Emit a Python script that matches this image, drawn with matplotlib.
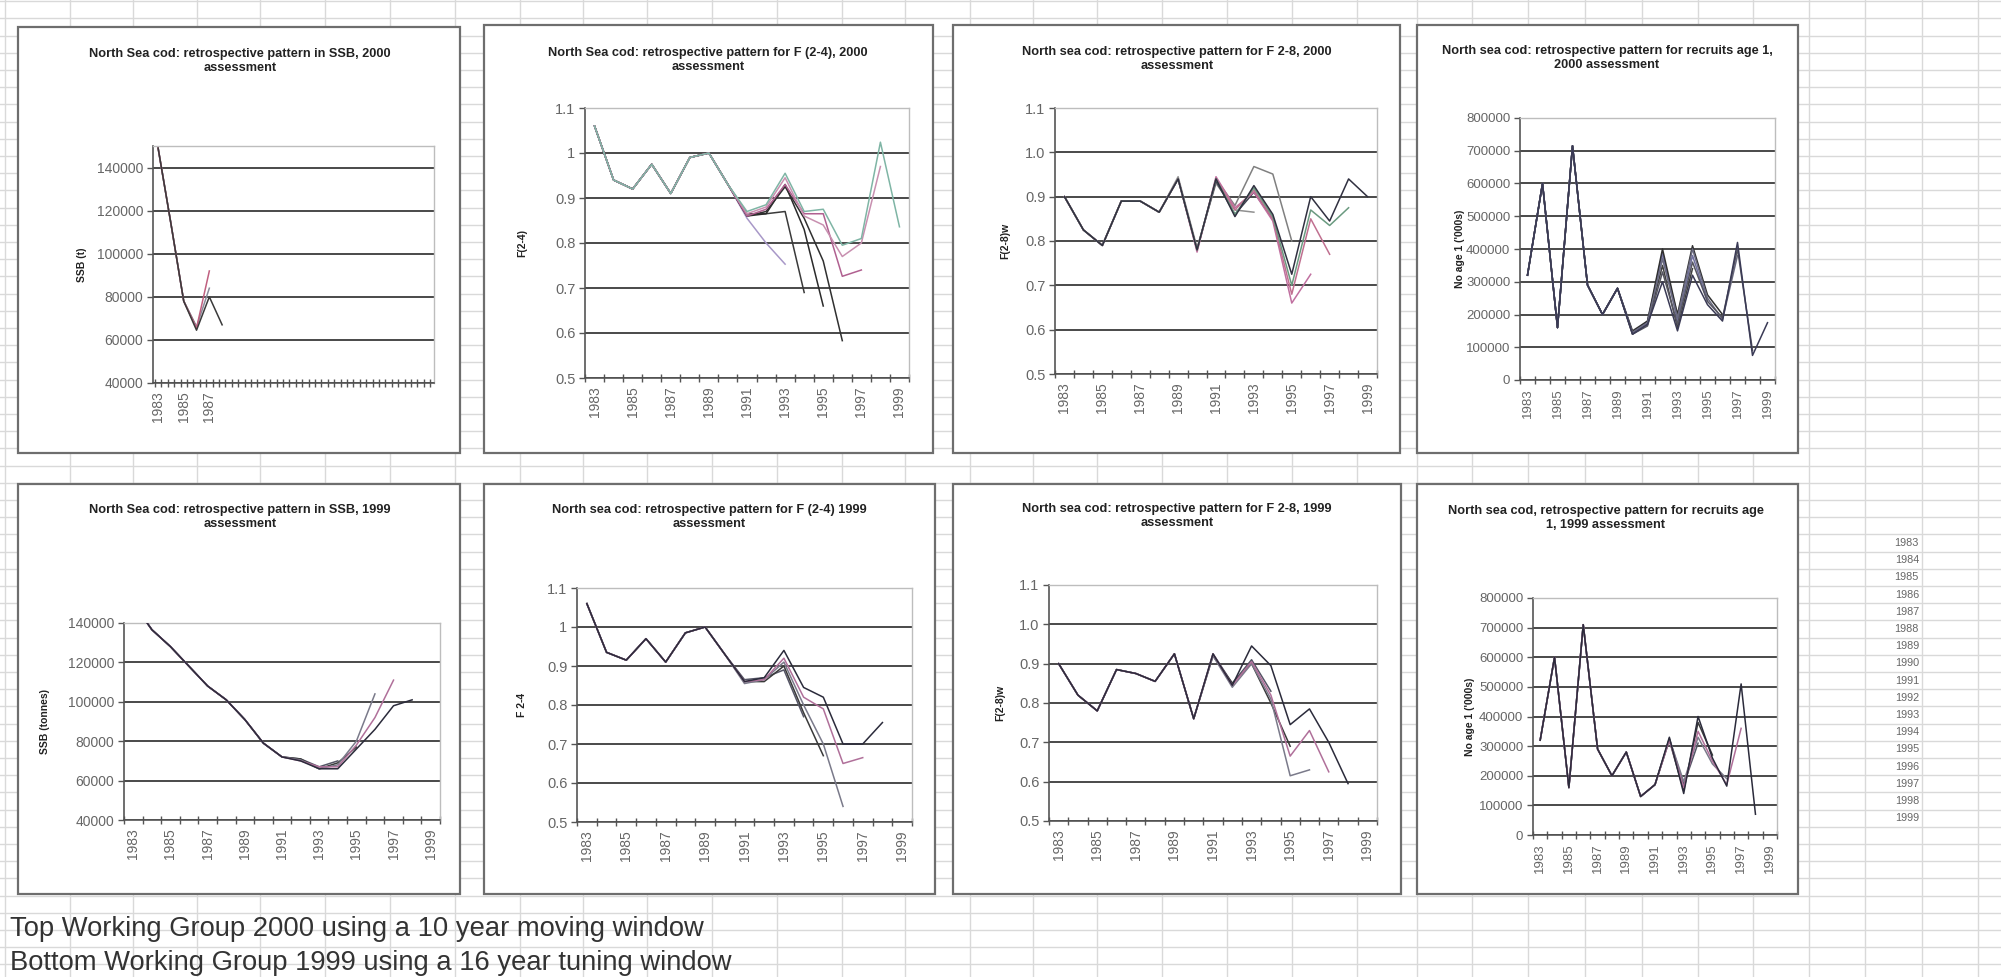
import matplotlib
matplotlib.use("Agg")
import matplotlib.pyplot as plt
from matplotlib.patches import Rectangle
from matplotlib.ticker import FixedLocator, NullFormatter
import numpy as np

plt.rcParams['font.family'] = ['Liberation Sans', 'DejaVu Sans']

# ---------------- data ----------------
years = list(range(1983, 2000))
year_labels = [str(y) for y in range(1983, 2000, 2)]
ssb_labels_2000 = ["1983", "1985", "1987"]

titles = [
    "North Sea cod: retrospective pattern in SSB, 2000\nassessment",
    "North Sea cod: retrospective pattern for F (2-4), 2000\nassessment",
    "North sea cod: retrospective pattern for F 2-8, 2000\nassessment",
    "North sea cod: retrospective pattern for recruits age 1,\n2000 assessment",
    "North Sea cod: retrospective pattern in SSB, 1999\nassessment",
    "North sea cod: retrospective pattern for F (2-4) 1999\nassessment",
    "North sea cod: retrospective pattern for F 2-8, 1999\nassessment",
    "North sea cod, retrospective pattern for recruits age\n1, 1999 assessment",
]
ylabels = ["SSB (t)", "F(2-4)", "F(2-8)w", "No age 1 ('000s)",
           "SSB (tonnes)", "F 2-4", "F(2-8)w", "No age 1 ('000s)"]

# each series starts in 1983; its length sets its last year
ssb_2000 = [
    [149000, 114000, 78000, 64500, 80000, 67000],
    [149000, 114000, 78000, 65500, 92000],
    [149000, 114000, 78000, 66000, 84000],
    [149000, 114000, 78000, 66000],
]
f24_2000 = [
    [1.06, 0.94, 0.92, 0.975, 0.91, 0.99, 1.0, 0.93, 0.87, 0.885, 0.955, 0.87, 0.875, 0.795, 0.81, 1.024, 0.836],
    [1.06, 0.94, 0.92, 0.975, 0.91, 0.99, 1.0, 0.93, 0.865, 0.88, 0.945, 0.86, 0.84, 0.77, 0.80, 0.97],
    [1.06, 0.94, 0.92, 0.975, 0.91, 0.99, 1.0, 0.93, 0.86, 0.875, 0.93, 0.865, 0.865, 0.726, 0.74],
    [1.06, 0.94, 0.92, 0.975, 0.91, 0.99, 1.0, 0.93, 0.86, 0.87, 0.925, 0.855, 0.76, 0.583],
    [1.06, 0.94, 0.92, 0.975, 0.91, 0.99, 1.0, 0.93, 0.86, 0.865, 0.93, 0.83, 0.66],
    [1.06, 0.94, 0.92, 0.975, 0.91, 0.99, 1.0, 0.93, 0.865, 0.865, 0.87, 0.69],
    [1.06, 0.94, 0.92, 0.975, 0.91, 0.99, 1.0, 0.93, 0.855, 0.80, 0.753],
]
f28_2000 = [
    [0.90, 0.825, 0.79, 0.89, 0.89, 0.865, 0.94, 0.78, 0.94, 0.855, 0.925, 0.86, 0.725, 0.90, 0.845, 0.94, 0.90],
    [0.90, 0.825, 0.79, 0.89, 0.89, 0.865, 0.94, 0.78, 0.94, 0.86, 0.92, 0.855, 0.70, 0.87, 0.835, 0.875],
    [0.90, 0.825, 0.79, 0.89, 0.89, 0.865, 0.94, 0.78, 0.94, 0.87, 0.915, 0.85, 0.68, 0.85, 0.77],
    [0.90, 0.825, 0.79, 0.89, 0.89, 0.865, 0.94, 0.775, 0.945, 0.875, 0.91, 0.845, 0.66, 0.725],
    [0.90, 0.825, 0.79, 0.89, 0.89, 0.865, 0.94, 0.78, 0.94, 0.88, 0.968, 0.951, 0.80],
    [0.90, 0.825, 0.79, 0.89, 0.89, 0.865, 0.94, 0.78, 0.935, 0.86, 0.91, 0.85],
    [0.90, 0.825, 0.79, 0.89, 0.89, 0.865, 0.945, 0.785, 0.93, 0.87, 0.865],
]
rec_2000 = [
    [320000, 600000, 160000, 715000, 290000, 200000, 280000, 140000, 170000, 300000, 150000, 320000, 230000, 180000, 420000, 75000, 175000],
    [320000, 600000, 160000, 715000, 290000, 200000, 280000, 140000, 165000, 330000, 170000, 360000, 240000, 190000, 400000, 90000],
    [320000, 600000, 160000, 715000, 290000, 200000, 280000, 145000, 175000, 370000, 190000, 400000, 250000, 185000, 380000],
    [320000, 600000, 160000, 715000, 290000, 200000, 280000, 150000, 180000, 400000, 200000, 410000, 260000, 200000],
    [320000, 600000, 160000, 715000, 290000, 200000, 280000, 145000, 175000, 390000, 180000, 380000, 240000],
    [320000, 600000, 160000, 715000, 290000, 200000, 280000, 140000, 170000, 350000, 160000, 340000],
    [320000, 600000, 160000, 715000, 290000, 200000, 280000, 145000, 180000, 380000, 200000],
]
ssb_1999 = [
    [150000, 136600, 128000, 118000, 108000, 101000, 91000, 79000, 72000, 70000, 66000, 66000, 76000, 86000, 98000, 101000],
    [150000, 136600, 128000, 118000, 108000, 101000, 91000, 79000, 72000, 70000, 67000, 67000, 78000, 92000, 111000],
    [150000, 136600, 128000, 118000, 108000, 101000, 91000, 79000, 72000, 70500, 66000, 68000, 80000, 104000],
    [150000, 136600, 128000, 118000, 108000, 101000, 91000, 79000, 72000, 71000, 66000, 69000, 77000],
    [150000, 136600, 128000, 118000, 108000, 101000, 91000, 79000, 72000, 71000, 67000, 70000],
]
f24_1999 = [
    [1.06, 0.935, 0.915, 0.97, 0.91, 0.985, 1.0, 0.93, 0.86, 0.87, 0.94, 0.845, 0.82, 0.70, 0.70, 0.755],
    [1.06, 0.935, 0.915, 0.97, 0.91, 0.985, 1.0, 0.93, 0.86, 0.865, 0.92, 0.82, 0.79, 0.65, 0.665],
    [1.06, 0.935, 0.915, 0.97, 0.91, 0.985, 1.0, 0.93, 0.855, 0.865, 0.91, 0.80, 0.70, 0.54],
    [1.06, 0.935, 0.915, 0.97, 0.91, 0.985, 1.0, 0.93, 0.86, 0.86, 0.90, 0.78, 0.67],
    [1.06, 0.935, 0.915, 0.97, 0.91, 0.985, 1.0, 0.93, 0.865, 0.87, 0.89, 0.77],
]
f28_1999 = [
    [0.90, 0.82, 0.78, 0.885, 0.875, 0.855, 0.925, 0.76, 0.925, 0.845, 0.945, 0.895, 0.745, 0.785, 0.70, 0.595],
    [0.90, 0.82, 0.78, 0.885, 0.875, 0.855, 0.925, 0.76, 0.925, 0.845, 0.905, 0.82, 0.665, 0.73, 0.625],
    [0.90, 0.82, 0.78, 0.885, 0.875, 0.855, 0.925, 0.76, 0.92, 0.84, 0.90, 0.81, 0.615, 0.63],
    [0.90, 0.82, 0.78, 0.885, 0.875, 0.855, 0.925, 0.76, 0.92, 0.85, 0.90, 0.80, 0.69],
    [0.90, 0.82, 0.78, 0.885, 0.875, 0.855, 0.925, 0.76, 0.925, 0.85, 0.91, 0.83],
]
rec_1999 = [
    [320000, 600000, 160000, 710000, 290000, 200000, 280000, 130000, 170000, 330000, 140000, 400000, 260000, 165000, 510000, 70000],
    [320000, 600000, 160000, 710000, 290000, 200000, 280000, 130000, 170000, 320000, 160000, 350000, 250000, 170000, 360000],
    [320000, 600000, 160000, 710000, 290000, 200000, 280000, 130000, 170000, 325000, 180000, 330000, 240000, 190000],
    [320000, 600000, 160000, 710000, 290000, 200000, 280000, 130000, 170000, 320000, 150000, 380000, 270000],
    [320000, 600000, 160000, 710000, 290000, 200000, 280000, 130000, 170000, 325000, 170000, 310000],
]

panel_data = [ssb_2000, f24_2000, f28_2000, rec_2000, ssb_1999, f24_1999, f28_1999, rec_1999]

side_years = [str(y) for y in range(1983, 2000)]
note_lines = ["Top Working Group 2000 using a 10 year moving window",
              "Bottom Working Group 1999 using a 16 year tuning window"]

# ---------------- layout (pixels) ----------------
W, H = 2001, 977
fig = plt.figure(figsize=(W / 100, H / 100), dpi=100)
bg = fig.add_axes([0, 0, 1, 1])
bg.set_xlim(0, W)
bg.set_ylim(H, 0)
bg.axis('off')

grid_c = '#d9d9d9'
vcols = [5, 70, 133, 197, 260, 325, 390, 455, 520, 583, 647, 712, 777, 842, 905,
         970, 1033, 1097, 1162, 1227, 1292, 1357, 1417, 1472, 1528, 1585, 1642,
         1698, 1753, 1809, 1865, 1922, 1978]
for x in vcols:
    bg.plot([x, x], [0, H], color=grid_c, lw=1.0, zorder=0)
for y in np.arange(1.2, H, 17.2):
    bg.plot([0, W], [y, y], color=grid_c, lw=1.0, zorder=0)

frames = [(18, 460, 27, 453), (484, 933, 25, 453), (953, 1400, 25, 453), (1417, 1798, 25, 453),
          (18, 460, 484, 894), (484, 935, 484, 894), (953, 1401, 484, 894), (1417, 1798, 484, 894)]
for (x0, x1, y0, y1) in frames:
    bg.add_patch(Rectangle((x0, y0), x1 - x0, y1 - y0, facecolor='white',
                           edgecolor='#6e6e6e', lw=1.6, zorder=1))

axes_px = [(153, 434, 146, 383), (585, 909, 108, 378), (1055, 1377, 108, 374), (1520, 1775, 118, 380),
           (124, 440, 623, 820), (577, 912, 588, 822), (1049, 1377, 585, 821), (1533, 1777, 598, 835)]
title_pos = [(240, 61), (708, 60), (1177, 59), (1607, 58),
             (240, 517), (709, 517), (1177, 516), (1606, 518)]
ylabel_x = [82, 522, 1005, 1460, 45, 522, 1000, 1470]

for (tx, ty), t in zip(title_pos, titles):
    bg.text(tx, ty, t, ha='center', va='center', fontsize=9.2, fontweight='bold',
            color='#222222', linespacing=1.25)

colors = ['#2b2b3b', '#b0709a', '#7a7a8a', '#3a3a3a', '#555566', '#303030', '#9a88b8']
colors_f24_2000 = ['#7fb5a5', '#c890b0', '#b06090', '#303030', '#2a2a2a', '#3a3a3a', '#a898c8']
colors_f28_2000 = ['#303040', '#6a9a80', '#c07090', '#c070a0', '#808080', '#404050', '#909090']
colors_rec_2000 = ['#3a3a55', '#555560', '#6a6a80', '#303030', '#7070a0', '#404040', '#8888a8']

for i, (data, (x0, x1, y0, y1)) in enumerate(zip(panel_data, axes_px)):
    ax = fig.add_axes([x0 / W, 1 - y1 / H, (x1 - x0) / W, (y1 - y0) / H])
    ax.set_facecolor('white')
    if i == 1:
        cols = colors_f24_2000
    elif i == 2:
        cols = colors_f28_2000
    elif i == 3:
        cols = colors_rec_2000
    elif i == 0:
        cols = ['#3a3a3a', '#c06080', '#8a8a9a', '#555555']
    else:
        cols = colors
    for k, s in reversed(list(enumerate(data))):
        ax.plot(years[:len(s)], s, color=cols[k % len(cols)], lw=1.1, zorder=3)

    # y axis
    if i in (0, 4):
        ax.set_ylim(40000, 150000 if i == 0 else 140000)
        yt = list(range(40000, 140001, 20000))
        ylab = [str(v) for v in yt]
        fs_y = 10
    elif i in (3, 7):
        ax.set_ylim(0, 800000)
        yt = list(range(0, 800001, 100000))
        ylab = [str(v) for v in yt]
        fs_y = 9.5
    else:
        ax.set_ylim(0.5, 1.1)
        yt = [0.5, 0.6, 0.7, 0.8, 0.9, 1.0, 1.1]
        if i in (2, 6):
            ylab = ["0.5", "0.6", "0.7", "0.8", "0.9", "1.0", "1.1"]
        else:
            ylab = ["0.5", "0.6", "0.7", "0.8", "0.9", "1", "1.1"]
        fs_y = 10.5
    ax.set_yticks(yt)
    ax.set_yticklabels(ylab, fontsize=fs_y, color='#666666')
    ax.yaxis.grid(True, color='#2a2a2a', lw=1.2, zorder=1)
    ax.tick_params(axis='y', direction='out', length=4, width=1, color='#555555', pad=3)

    # x axis
    if i == 0:
        ax.set_xlim(1982.6, 2004.55)
        ax.xaxis.set_major_locator(FixedLocator([int(v) for v in ssb_labels_2000]))
        ax.set_xticklabels(ssb_labels_2000)
        ax.xaxis.set_minor_locator(FixedLocator(np.arange(1982.75, 2004.6, 0.5)))
    else:
        ax.set_xlim(1982.5, 1999.5)
        ax.xaxis.set_major_locator(FixedLocator([int(v) for v in year_labels]))
        ax.set_xticklabels(year_labels)
        ax.xaxis.set_minor_locator(FixedLocator(np.arange(1982.5, 1999.6, 1.0)))
    ax.xaxis.set_minor_formatter(NullFormatter())
    ax.tick_params(axis='x', which='major', length=0, labelsize=9.5 if i in (3, 7) else 10,
                   labelcolor='#666666', rotation=90, pad=6)
    ax.tick_params(axis='x', which='minor', direction='inout', length=6, width=1, color='#555555')

    for side in ('left', 'bottom'):
        ax.spines[side].set_color('#555555')
        ax.spines[side].set_linewidth(1.2)
    for side in ('top', 'right'):
        ax.spines[side].set_color('#bdbdbd')
        ax.spines[side].set_linewidth(1.0)

    bg.text(ylabel_x[i], (y0 + y1) / 2, ylabels[i], rotation=90, ha='center', va='center',
            fontsize=7.5, fontweight='bold', color='#222222')

# stray legend marks
bg.text(428, 632, "F", fontsize=5, color='#444444', ha='center', va='center')
bg.plot([430], [648], marker='o', ms=2.2, color='#444444')
bg.text(1765, 785, "F", fontsize=5, color='#444444', ha='center', va='center')
bg.plot([1768], [800], marker='o', ms=2.2, color='#444444')

# side column of years
for k, t in enumerate(side_years):
    bg.text(1919, 543 + 17.2 * k, t, fontsize=7.8, color='#666666', ha='right', va='center')

# notes
bg.text(10, 929, note_lines[0], fontsize=19.7, color='#333333', ha='left', va='center')
bg.text(10, 963, note_lines[1], fontsize=19.7, color='#333333', ha='left', va='center')

fig.savefig("out.png", dpi=100)
